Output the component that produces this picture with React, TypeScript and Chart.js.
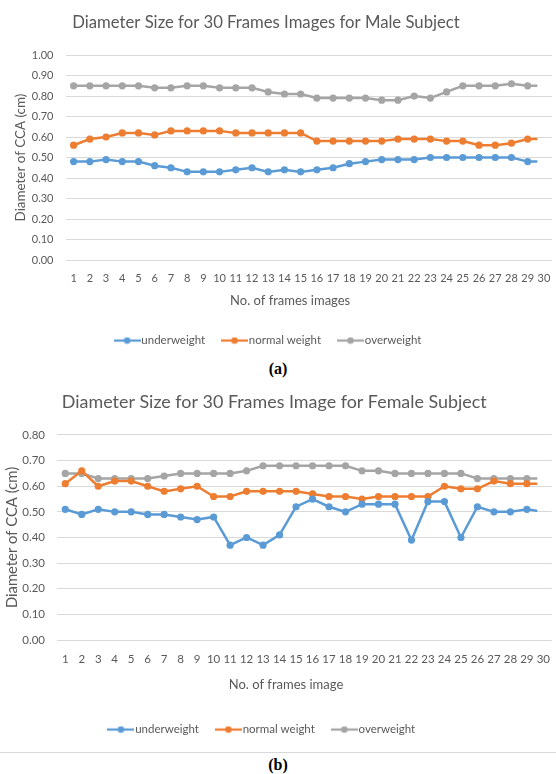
import React, { useEffect, useRef } from "react";
import { Chart, registerables } from "chart.js";

Chart.register(...registerables);

// ---------- data ----------
const frameLabels = [
  "1", "2", "3", "4", "5", "6", "7", "8", "9", "10",
  "11", "12", "13", "14", "15", "16", "17", "18", "19", "20",
  "21", "22", "23", "24", "25", "26", "27", "28", "29", "30",
];

const seriesNames = ["underweight", "normal weight", "overweight"];
const seriesColors = ["#5B9BD5", "#ED7D31", "#A5A5A5"];

const maleUnderweight = [0.48, 0.48, 0.49, 0.48, 0.48, 0.46, 0.45, 0.43, 0.43, 0.43, 0.44, 0.45, 0.43, 0.44, 0.43, 0.44, 0.45, 0.47, 0.48, 0.49, 0.49, 0.49, 0.5, 0.5, 0.5, 0.5, 0.5, 0.5, 0.48, 0.48];
const maleNormal = [0.56, 0.59, 0.6, 0.62, 0.62, 0.61, 0.63, 0.63, 0.63, 0.63, 0.62, 0.62, 0.62, 0.62, 0.62, 0.58, 0.58, 0.58, 0.58, 0.58, 0.59, 0.59, 0.59, 0.58, 0.58, 0.56, 0.56, 0.57, 0.59, 0.59];
const maleOverweight = [0.85, 0.85, 0.85, 0.85, 0.85, 0.84, 0.84, 0.85, 0.85, 0.84, 0.84, 0.84, 0.82, 0.81, 0.81, 0.79, 0.79, 0.79, 0.79, 0.78, 0.78, 0.8, 0.79, 0.82, 0.85, 0.85, 0.85, 0.86, 0.85, 0.85];

const femaleUnderweight = [0.51, 0.49, 0.51, 0.5, 0.5, 0.49, 0.49, 0.48, 0.47, 0.48, 0.37, 0.4, 0.37, 0.41, 0.52, 0.55, 0.52, 0.5, 0.53, 0.53, 0.53, 0.39, 0.54, 0.54, 0.4, 0.52, 0.5, 0.5, 0.51, 0.5];
const femaleNormal = [0.61, 0.66, 0.6, 0.62, 0.62, 0.6, 0.58, 0.59, 0.6, 0.56, 0.56, 0.58, 0.58, 0.58, 0.58, 0.57, 0.56, 0.56, 0.55, 0.56, 0.56, 0.56, 0.56, 0.6, 0.59, 0.59, 0.62, 0.61, 0.61, 0.61];
const femaleOverweight = [0.65, 0.65, 0.63, 0.63, 0.63, 0.63, 0.64, 0.65, 0.65, 0.65, 0.65, 0.66, 0.68, 0.68, 0.68, 0.68, 0.68, 0.68, 0.66, 0.66, 0.65, 0.65, 0.65, 0.65, 0.65, 0.63, 0.63, 0.63, 0.63, 0.63];

const maleTitle = "Diameter Size for 30 Frames Images for Male Subject";
const femaleTitle = "Diameter Size for 30 Frames Image for Female Subject";
const yAxisTitle = "Diameter of CCA (cm)";
const maleXTitle = "No. of frames images";
const femaleXTitle = "No. of frames image";

// ---------- styling ----------
const FONT = "Lato, 'Open Sans', sans-serif";
const TEXT = "#595959";
const GRID = "#D9D9D9";

function legendIcon(color: string) {
  const c = document.createElement("canvas");
  c.width = 27;
  c.height = 8;
  const ctx = c.getContext("2d")!;
  ctx.strokeStyle = color;
  ctx.lineWidth = 2.25;
  ctx.beginPath();
  ctx.moveTo(0, 4);
  ctx.lineTo(27, 4);
  ctx.stroke();
  ctx.fillStyle = color;
  ctx.beginPath();
  ctx.arc(13.5, 4, 3.3, 0, Math.PI * 2);
  ctx.fill();
  return c;
}

const shiftPlugin = {
  id: "shiftBoxes",
  afterLayout(chart: any, _args: any, opts: any) {
    const sh = (box: any, dx: number) => {
      if (box && dx) {
        box.left += dx;
        box.right += dx;
      }
    };
    sh(chart.titleBlock, opts.title || 0);
    sh(chart.legend, opts.legend || 0);
    sh(chart.scales.x, opts.xTitle || 0);
  },
};

type Cfg = {
  title: string;
  titleSize: number;
  titlePad: { top: number; bottom: number };
  xTitle: string;
  xTitleSize: number;
  xTitlePadBottom: number;
  xHeight: number;
  tickSize: number;
  tickPad: number;
  yMax: number;
  yTitleSize: number;
  yTitlePadTop: number;
  yWidth: number;
  rightPad: number;
  legendSize: number;
  legendPad: number;
  series: number[][];
  shifts: { title: number; legend: number; xTitle: number };
};

function buildConfig(p: Cfg): any {
  const icons = seriesColors.map(legendIcon);
  return {
    type: "line",
    data: {
      labels: frameLabels,
      datasets: p.series.map((vals, i) => ({
        label: seriesNames[i],
        data: vals,
        borderColor: seriesColors[i],
        backgroundColor: seriesColors[i],
        borderWidth: 2.5,
        pointRadius: 3.6,
        pointBorderWidth: 0,
        pointBackgroundColor: seriesColors[i],
        tension: 0,
        fill: false,
      })),
    },
    plugins: [shiftPlugin],
    options: {
      animation: false,
      responsive: true,
      maintainAspectRatio: false,
      layout: { padding: { left: 0, right: p.rightPad, top: 0, bottom: 0 } },
      plugins: {
        shiftBoxes: p.shifts,
        tooltip: { enabled: false },
        title: {
          display: true,
          text: p.title,
          color: TEXT,
          font: { family: FONT, size: p.titleSize, weight: "normal" },
          padding: p.titlePad,
        },
        legend: {
          display: true,
          position: "bottom",
          labels: {
            color: TEXT,
            font: { family: FONT, size: p.legendSize },
            usePointStyle: true,
            pointStyleWidth: 17,
            padding: p.legendPad,
            generateLabels: (chart: any) =>
              (Chart as any).defaults.plugins.legend.labels
                .generateLabels(chart)
                .map((l: any, i: number) => ({ ...l, pointStyle: icons[i] })),
          },
        },
      },
      scales: {
        x: {
          offset: true,
          grid: { display: false, drawTicks: false },
          border: { display: false },
          ticks: {
            color: TEXT,
            font: { family: FONT, size: p.tickSize },
            autoSkip: false,
            maxRotation: 0,
            minRotation: 0,
            padding: p.tickPad,
          },
          title: {
            display: true,
            text: p.xTitle,
            color: TEXT,
            font: { family: FONT, size: p.xTitleSize },
            padding: { top: 0, bottom: p.xTitlePadBottom },
          },
          afterFit: (scale: any) => {
            scale.height = p.xHeight;
            scale.paddingLeft = 0;
            scale.paddingRight = 0;
          },
        },
        y: {
          min: 0,
          max: p.yMax,
          grid: { color: GRID, lineWidth: 1, drawTicks: false },
          border: { display: false },
          ticks: {
            stepSize: 0.1,
            color: TEXT,
            font: { family: FONT, size: p.tickSize },
            padding: 12,
            callback: (v: any) => Number(v).toFixed(2),
          },
          title: {
            display: true,
            text: yAxisTitle,
            color: TEXT,
            font: { family: FONT, size: p.yTitleSize },
            padding: { top: p.yTitlePadTop, bottom: 0 },
          },
          afterFit: (scale: any) => {
            scale.width = p.yWidth;
          },
        },
      },
    },
  };
}

const maleCfg: Cfg = {
  title: maleTitle,
  titleSize: 16.7,
  titlePad: { top: 12.7, bottom: 22.3 },
  xTitle: maleXTitle,
  xTitleSize: 13,
  xTitlePadBottom: 5.4,
  xHeight: 53.8,
  tickSize: 11,
  tickPad: 11.7,
  yMax: 1,
  yTitleSize: 13.4,
  yTitlePadTop: 13,
  yWidth: 65.5,
  rightPad: 0,
  legendSize: 11.5,
  legendPad: 21,
  series: [maleUnderweight, maleNormal, maleOverweight],
  shifts: { title: -12, legend: -8, xTitle: -18.6 },
};

const femaleCfg: Cfg = {
  title: femaleTitle,
  titleSize: 17.9,
  titlePad: { top: 13.25, bottom: 22.25 },
  xTitle: femaleXTitle,
  xTitleSize: 13,
  xTitlePadBottom: 9.7,
  xHeight: 62.8,
  tickSize: 11.5,
  tickPad: 12.7,
  yMax: 0.8,
  yTitleSize: 14.8,
  yTitlePadTop: 3.1,
  yWidth: 57,
  rightPad: 4.4,
  legendSize: 11.5,
  legendPad: 21,
  series: [femaleUnderweight, femaleNormal, femaleOverweight],
  shifts: { title: -1.5, legend: -12, xTitle: -18.3 },
};

function LineChart({ cfg, top, height }: { cfg: Cfg; top: number; height: number }) {
  const ref = useRef<HTMLCanvasElement>(null);
  useEffect(() => {
    const chart = new Chart(ref.current!, buildConfig(cfg));
    return () => chart.destroy();
  }, [cfg]);
  return (
    <div style={{ position: "absolute", left: 0, top, width: 556, height }}>
      <canvas ref={ref} />
    </div>
  );
}

const captionStyle: React.CSSProperties = {
  position: "absolute",
  left: 0,
  width: 556,
  textAlign: "center",
  fontFamily: "'Liberation Serif', 'Times New Roman', serif",
  fontWeight: "bold",
  fontSize: 16,
  lineHeight: "18px",
  color: "#000",
};

export default function App() {
  return (
    <div
      style={{
        position: "absolute",
        left: 0,
        top: 0,
        width: 556,
        height: 774,
        background: "#fff",
        overflow: "hidden",
      }}
    >
      <LineChart cfg={maleCfg} top={0} height={356.3} />
      <div style={{ ...captionStyle, top: 360 }}>(a)</div>
      <LineChart cfg={femaleCfg} top={378} height={367.3} />
      <div
        style={{
          position: "absolute",
          left: 0,
          top: 752,
          width: 556,
          height: 1,
          background: "#D9D9D9",
        }}
      />
      <div style={{ ...captionStyle, top: 756 }}>(b)</div>
    </div>
  );
}
